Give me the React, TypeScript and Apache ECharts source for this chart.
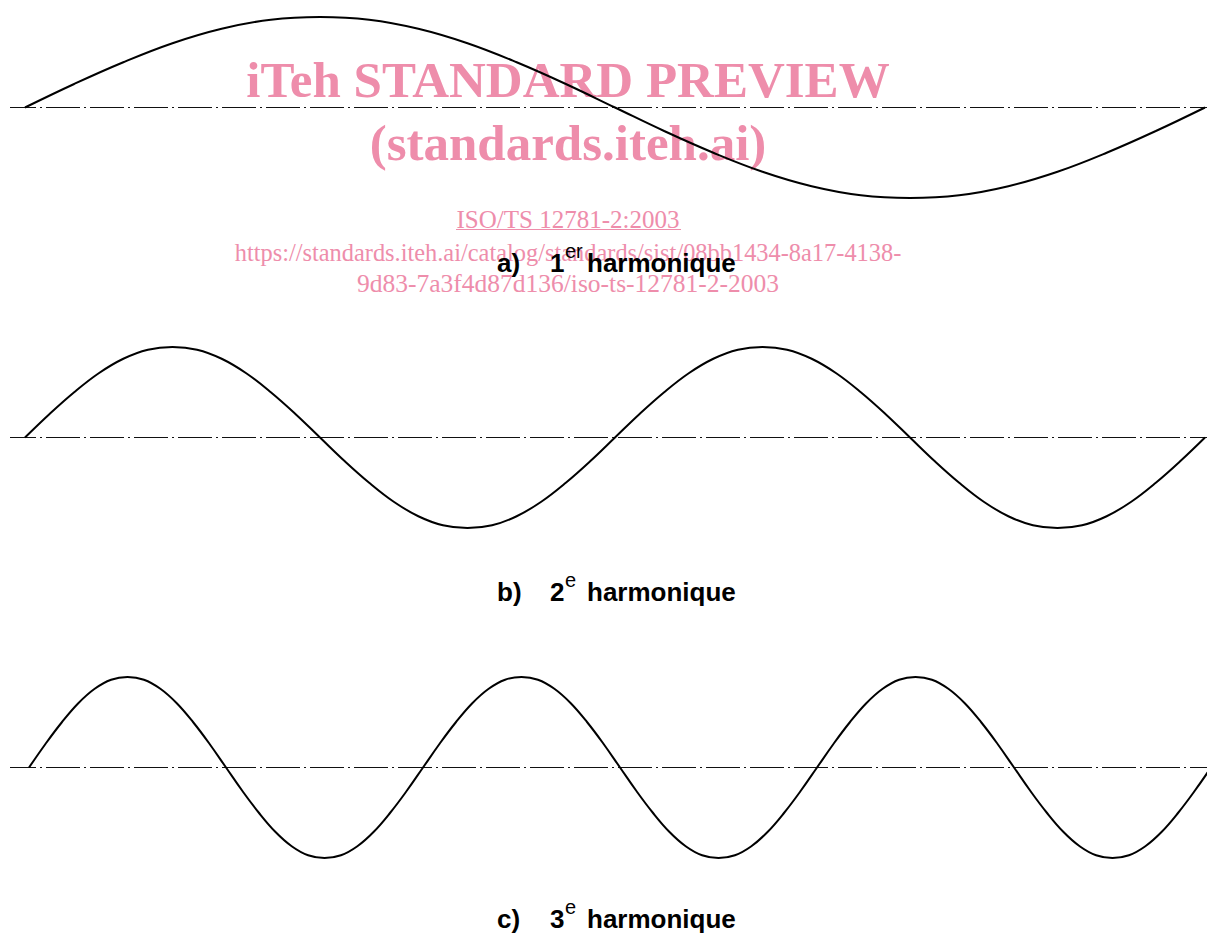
import React, { useEffect, useRef } from "react";
import * as echarts from "echarts";

const CYCLE = [
  0, 0.26, 0.5, 0.71, 0.87, 0.97, 1, 0.97, 0.87, 0.71, 0.5, 0.26,
  0, -0.26, -0.5, -0.71, -0.87, -0.97, -1, -0.97, -0.87, -0.71, -0.5, -0.26,
];
const HARMONICS = [1, 2, 3];
const LABELS = ["a)", "b)", "c)"];
const ORDINALS = ["1", "2", "3"];
const SUFFIXES = ["er", "e", "e"];
const CAPTION_WORD = "harmonique";
// visible x-extent of each panel (the wave runs from 0 to 1)
const X_MIN = [-0.0127, -0.0127, -0.0161];
const X_MAX = [1.0017, 1.0017, 0.9966];

const WATERMARK_BIG = ["iTeh STANDARD PREVIEW", "(standards.iteh.ai)"];
const WATERMARK_REF = "ISO/TS 12781-2:2003";
const WATERMARK_URL = [
  "https://standards.iteh.ai/catalog/standards/sist/08bb1434-8a17-4138-",
  "9d83-7a3f4d87d136/iso-ts-12781-2-2003",
];

function buildWave(n: number): number[][] {
  const steps = CYCLE.length * n;
  const pts: number[][] = [];
  for (let i = 0; i <= steps; i++) {
    pts.push([i / steps, CYCLE[i % CYCLE.length]]);
  }
  return pts;
}

export default function App() {
  const ref = useRef<HTMLDivElement>(null);

  useEffect(() => {
    if (!ref.current) return;
    const chart = echarts.init(ref.current, undefined, { renderer: "svg" });

    const panelTop = [17, 347, 677];
    const panelH = 181;
    const captionY = [263, 592, 919];

    const grids = panelTop.map((t) => ({ left: 10, right: 0, top: t, height: panelH }));
    const xAxes = panelTop.map((_, i) => ({
      type: "value",
      gridIndex: i,
      min: X_MIN[i],
      max: X_MAX[i],
      show: false,
    }));
    const yAxes = panelTop.map((_, i) => ({
      type: "value",
      gridIndex: i,
      min: -1,
      max: 1,
      show: false,
    }));

    const series: any[] = [];
    HARMONICS.forEach((h, i) => {
      series.push({
        type: "line",
        xAxisIndex: i,
        yAxisIndex: i,
        data: [
          [X_MIN[i], 0],
          [X_MAX[i], 0],
        ],
        symbol: "none",
        silent: true,
        z: 2,
        lineStyle: { color: "#111", width: 1, type: [34, 4, 2, 4], dashOffset: 8 },
      });
      series.push({
        type: "line",
        xAxisIndex: i,
        yAxisIndex: i,
        data: buildWave(h),
        smooth: 0.4,
        symbol: "none",
        z: 3,
        lineStyle: { color: "#000", width: 2 },
      });
    });

    const pink = "#ee8dab";
    const graphics: any[] = [];
    const wm = (text: string, y: number, font: string) => ({
      type: "text",
      x: 568,
      y,
      z: 1,
      style: { text, font, fill: pink, textAlign: "center", textVerticalAlign: "middle" },
    });
    graphics.push(wm(WATERMARK_BIG[0], 80, 'bold 51px "Liberation Serif"'));
    graphics.push(wm(WATERMARK_BIG[1], 143, 'bold 51px "Liberation Serif"'));
    graphics.push(wm(WATERMARK_REF, 219, '25px "Liberation Serif"'));
    graphics.push({
      type: "line",
      z: 1,
      shape: { x1: 456, y1: 229.5, x2: 681, y2: 229.5 },
      style: { stroke: pink, lineWidth: 1 },
    });
    graphics.push(wm(WATERMARK_URL[0], 252, '24.4px "Liberation Serif"'));
    graphics.push(wm(WATERMARK_URL[1], 283, '25.5px "Liberation Serif"'));

    // captions
    HARMONICS.forEach((_, i) => {
      const cy = captionY[i];
      const txt = (text: string, x: number, y: number, font: string) => ({
        type: "text",
        x,
        y,
        z: 10,
        style: { text, font, fill: "#000", textVerticalAlign: "middle" },
      });
      graphics.push(txt(LABELS[i], 497, cy, 'bold 26px "Liberation Sans"'));
      graphics.push(txt(ORDINALS[i], 550, cy, 'bold 26px "Liberation Sans"'));
      graphics.push(txt(SUFFIXES[i], 565, cy - 12, '20px "Liberation Sans"'));
      graphics.push(txt(CAPTION_WORD, 587, cy, 'bold 26px "Liberation Sans"'));
    });

    chart.setOption({
      animation: false,
      backgroundColor: "#fff",
      grid: grids,
      xAxis: xAxes,
      yAxis: yAxes,
      series,
      graphic: { elements: graphics },
    });

    return () => chart.dispose();
  }, []);

  return (
    <div
      ref={ref}
      style={{ position: "fixed", left: 0, top: 0, width: 1207, height: 933 }}
    />
  );
}
